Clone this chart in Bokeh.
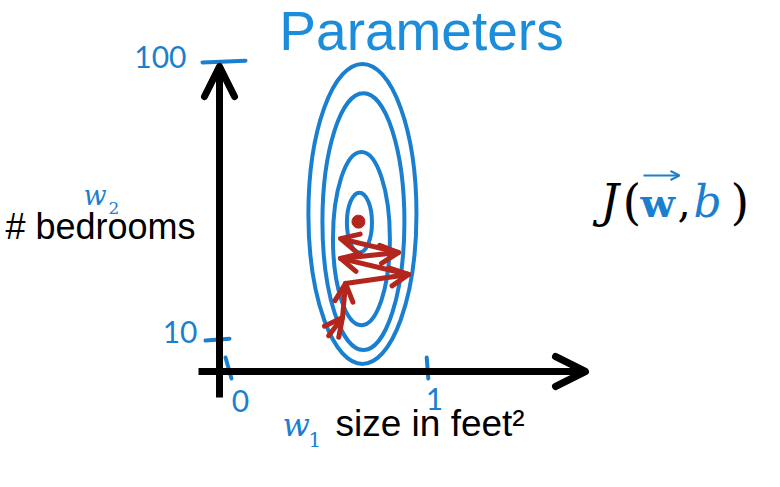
from bokeh.plotting import figure
from bokeh.models import Range1d, Arrow, OpenHead
from bokeh.embed import file_html
from bokeh.resources import INLINE
from bokeh.core.properties import value

# ---------------- data (parameter space w1, w2) ----------------
w1_ticks = [0, 1]
w1_tick_labels = ["0", "1"]
w2_ticks = [10, 100]
w2_tick_labels = ["10", "100"]

# contour ellipses of J(w, b)
contour_w1 = [0.673, 0.678, 0.668, 0.658]
contour_w2 = [51.0, 48.5, 43.0, 48.2]
contour_width = [0.543, 0.412, 0.286, 0.126]
contour_height = [97.1, 83.2, 56.0, 19.4]

# gradient descent path (zig-zag)
path_w1 = [0.503, 0.573, 0.588, 0.905, 0.563, 0.854, 0.563]
path_w2 = [11.6, 17.5, 28.5, 31.4, 36.6, 38.5, 43.0]
minimum_w1 = [0.653]
minimum_w2 = [48.5]

# ---------------- layout helpers (pixel -> data) ----------------
X0, SX = 228.0, 199.0     # screen x of w1=0, px per unit
Y0, SY = 371.0, 3.09      # screen y of w2=0, px per unit
OFF = 0                   # page offset of the figure


def dx(sx):
    return (sx - X0) / SX


def dy(sy):
    return (Y0 - sy) / SY


W, H = 764, 470
BLUE = "#1b7fd0"
TITLE_BLUE = "#1b8ddb"
RED = "#b3261e"

p = figure(width=W, height=H,
           x_range=Range1d(dx(OFF), dx(OFF + W)),
           y_range=Range1d(dy(OFF + H), dy(OFF)),
           output_backend="svg", toolbar_location=None,
           min_border=0, x_axis_location=None, y_axis_location=None)
p.grid.visible = False
p.outline_line_color = None
p.background_fill_color = "white"
p.border_fill_color = "white"

# ---------------- axes (hand drawn arrows) ----------------
ax_lw = 7
p.add_layout(Arrow(x_start=dx(198), y_start=0, x_end=dx(585), y_end=0,
                   line_width=ax_lw, line_color="black",
                   end=OpenHead(size=30, line_width=ax_lw, line_color="black",
                                line_cap="round", line_join="round")))
p.add_layout(Arrow(x_start=dx(219), y_start=dy(397), x_end=dx(219), y_end=dy(66),
                   line_width=ax_lw, line_color="black",
                   end=OpenHead(size=30, line_width=ax_lw, line_color="black",
                                line_cap="round", line_join="round")))

# ---------------- ticks ----------------
w2_tick_x0 = [dx(205), dx(202)]
w2_tick_x1 = [dx(229), dx(245)]
p.segment(x0=w2_tick_x0, y0=w2_ticks, x1=w2_tick_x1, y1=[t + 0.6 for t in w2_ticks],
          line_color=BLUE, line_width=4, line_cap="round")
w1_slant = [0.015, 0.004]
p.segment(x0=[t - s for t, s in zip(w1_ticks, w1_slant)], y0=[dy(357)] * 2,
          x1=[t + s for t, s in zip(w1_ticks, w1_slant)], y1=[dy(378)] * 2,
          line_color=BLUE, line_width=4, line_cap="round")

p.text(x=[dx(197), dx(186)], y=[dy(331), dy(56)], text=w2_tick_labels,
       text_align="right", text_baseline="middle", text_color=BLUE,
       text_font=value("Lato"), text_font_size="30px")
p.text(x=[dx(240), dx(434)], y=[dy(400), dy(398)], text=w1_tick_labels,
       text_align="center", text_baseline="middle", text_color=BLUE,
       text_font=value("Lato"), text_font_size="30px")

# ---------------- contours ----------------
p.ellipse(x=contour_w1, y=contour_w2, width=contour_width, height=contour_height,
          fill_color=None, line_color=BLUE, line_width=4)

# ---------------- gradient descent path ----------------
for i in range(len(path_w1) - 1):
    p.add_layout(Arrow(x_start=path_w1[i], y_start=path_w2[i],
                       x_end=path_w1[i + 1], y_end=path_w2[i + 1],
                       line_color=RED, line_width=5, line_cap="round",
                       end=OpenHead(size=18, line_width=5, line_color=RED,
                                    line_cap="round", line_join="round")))
p.scatter(x=minimum_w1, y=minimum_w2, size=13, color=RED)

# ---------------- texts ----------------
CENTRAL = {"Liberation Sans": 0.347, "DejaVu Serif": 0.346, "Open Sans": 0.388,
           "Lato": 0.387}


def label(sx, baseline, text, size, color="black", font="Liberation Sans",
          style="normal", align="left"):
    mid = baseline - CENTRAL[font] * size
    p.text(x=[dx(sx)], y=[dy(mid)], text=[text], text_font=value(font),
           text_font_size=f"{size}px", text_font_style=style, text_color=color,
           text_align=align, text_baseline="middle")


label(421, 50, "Parameters", 55, TITLE_BLUE, font="Liberation Sans", align="center")

label(83, 204, "w", 27, BLUE, font="DejaVu Serif", style="italic")
label(108, 213, "2", 17, BLUE, font="DejaVu Serif")
label(5, 238, "# bedrooms", 36)

label(282, 436, "w", 32, BLUE, font="DejaVu Serif", style="italic")
label(308, 446, "1", 20, BLUE, font="DejaVu Serif")
label(335, 436, "size in feet\u00b2", 37)

JB = 216  # baseline of J(w, b)
label(600, JB, "J", 46, font="DejaVu Serif", style="italic")
label(622, JB + 2, "(", 48, font="DejaVu Serif")
label(640, JB, "w", 40, BLUE, font="DejaVu Serif", style="bold")
label(677, JB, ",", 42, font="DejaVu Serif")
label(693, JB, "b", 44, BLUE, font="DejaVu Serif", style="italic")
label(730, JB + 2, ")", 48, font="DejaVu Serif")
p.add_layout(Arrow(x_start=dx(643), y_start=dy(175), x_end=dx(679), y_end=dy(175),
                   line_color=BLUE, line_width=2,
                   end=OpenHead(size=9, line_width=2, line_color=BLUE)))

open("out.html", "w").write(file_html(p, INLINE))
